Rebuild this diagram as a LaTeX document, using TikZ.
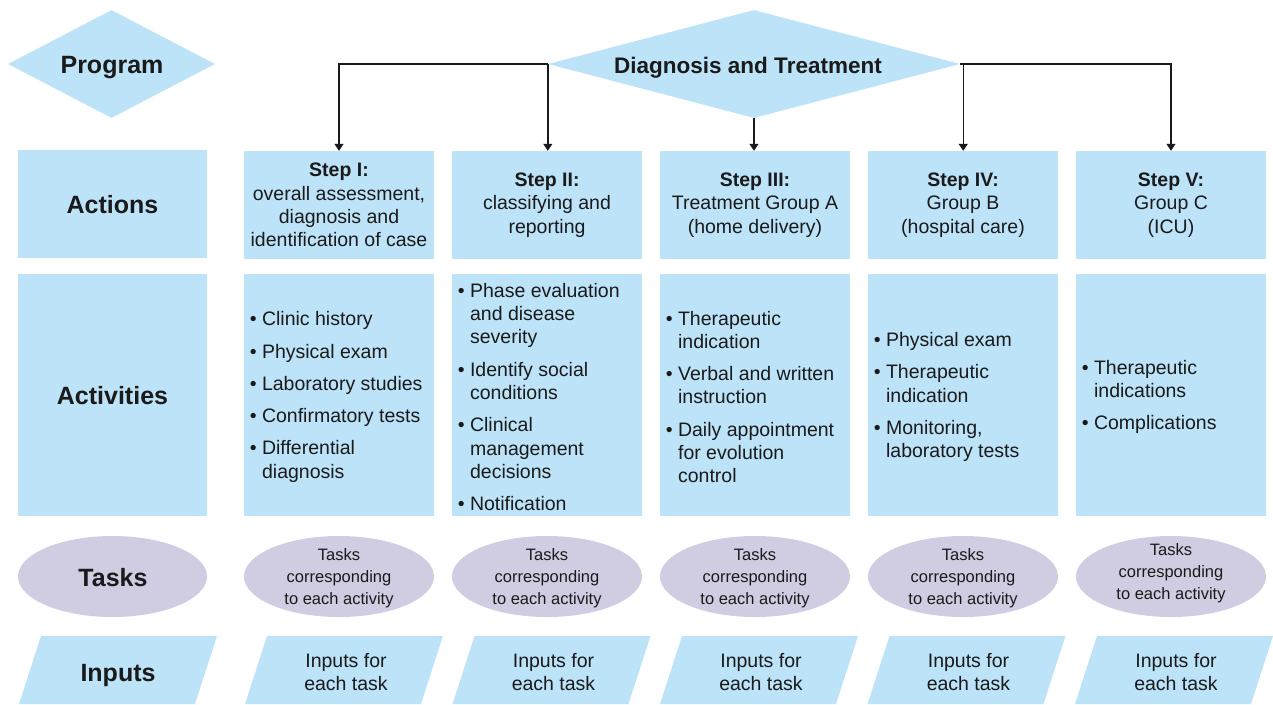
\documentclass[tikz,border=0pt]{standalone}
\usepackage{fontspec}
\setmainfont{Liberation Sans}
\usetikzlibrary{shapes.geometric,arrows.meta}
\definecolor{boxblue}{RGB}{189,227,248}
\definecolor{taskpurple}{RGB}{208,204,225}
\definecolor{ink}{RGB}{26,26,26}
% parallelogram for the inputs row, centred at x = #1
\newcommand\inputshape[1]{\fill[boxblue] ({#1-77},636) -- ({#1+99},636) -- ({#1+77},704) -- ({#1-99},704) -- cycle;}
\begin{document}
\begin{tikzpicture}[x=1pt,y=-1pt,
  every node/.style={text=ink},
  hdr/.style={font=\fontsize{25}{30}\selectfont\bfseries},
  title/.style={font=\fontsize{22.5}{27}\selectfont\bfseries},
  body/.style={font=\fontsize{19.5}{23.3}\selectfont},
  small/.style={font=\fontsize{16.5}{22}\selectfont},
  rowbox/.style={fill=boxblue, inner sep=0pt, minimum width=190pt},
  actbox/.style={rowbox, minimum height=108pt},
  actvbox/.style={rowbox, minimum height=242pt},
  bullets/.style={body, align=left, anchor=west, xshift=2.5pt, yshift=-2pt},
  taskell/.style={ellipse, fill=taskpurple, inner sep=0pt, minimum width=190pt, minimum height=81pt},
  diam/.style={diamond, fill=boxblue, inner sep=0pt, minimum height=108pt},
  link/.style={draw=ink, line width=1.4pt, -{Triangle[width=9pt,length=7pt]}},
]
\useasboundingbox (0,0) rectangle (1273,704);

% program row
\node[diam, minimum width=207pt] (prog) at (111.5,64) {};
\node[hdr] (progt) at (112,68) {Program};
\node[diam, minimum width=412pt] (diag) at (754,64) {};
\node[title] (diagt) at (748,68) {Diagnosis and Treatment};

% actions row
\node[actbox, minimum width=189pt] (lact) at (112.5,204) {};
\node[hdr] (lactt) at (112.5,205) {Actions};
\node[actbox, body, align=center] (a1) at (339,205) {{\bfseries Step I:}\\overall assessment,\\diagnosis and\\identification of case};
\node[actbox, body, align=center] (a2) at (547,205) {{\bfseries Step II:}\\classifying and\\reporting};
\node[actbox, body, align=center] (a3) at (755,205) {{\bfseries Step III:}\\Treatment Group A\\(home delivery)};
\node[actbox, body, align=center] (a4) at (963,205) {{\bfseries Step IV:}\\Group B\\(hospital care)};
\node[actbox, body, align=center] (a5) at (1171,205) {{\bfseries Step V:}\\Group C\\(ICU)};

% connectors from the program
\coordinate (rdrop) at ([xshift=3pt]diag.east);
\draw[link] (diag.west) -| (a1.north);
\draw[link] (diag.west) -- (diag.west |- a2.north);
\draw[link] (diag.south) -- (diag.south |- a3.north);
\draw[link] (diag.east) -- (rdrop) -- (rdrop |- a4.north);
\draw[link] (diag.east) -| (a5.north);

% activities row
\node[actvbox, minimum width=189pt] (lactv) at (112.5,395) {};
\node[hdr] (lactvt) at (112.5,396) {Activities};
\foreach \i/\x in {1/339,2/547,3/755,4/963,5/1171}
  \node[actvbox] (v\i) at (\x,395) {};
\node[bullets] (v1t) at (v1.west)
  {• Clinic history\\[9pt]• Physical exam\\[9pt]• Laboratory studies\\[9pt]• Confirmatory tests\\[9pt]• Differential\\\phantom{• }diagnosis};
\node[bullets] (v2t) at (v2.west)
  {• Phase evaluation\\\phantom{• }and disease\\\phantom{• }severity\\[9pt]• Identify social\\\phantom{• }conditions\\[9pt]• Clinical\\\phantom{• }management\\\phantom{• }decisions\\[9pt]• Notification};
\node[bullets] (v3t) at (v3.west)
  {• Therapeutic\\\phantom{• }indication\\[9pt]• Verbal and written\\\phantom{• }instruction\\[9pt]• Daily appointment\\\phantom{• }for evolution\\\phantom{• }control};
\node[bullets] (v4t) at (v4.west)
  {• Physical exam\\[9pt]• Therapeutic\\\phantom{• }indication\\[9pt]• Monitoring,\\\phantom{• }laboratory tests};
\node[bullets] (v5t) at (v5.west)
  {• Therapeutic\\\phantom{• }indications\\[9pt]• Complications};

% tasks row
\node[taskell, minimum width=189pt] (ltask) at (112.5,576.5) {};
\node[hdr] (ltaskt) at (113,578) {Tasks};
\foreach \i/\x in {1/339,2/547,3/755,4/963}{
  \node[taskell] (k\i) at (\x,576.5) {};
  \node[small, align=center] (k\i t) at (\x,578.5) {Tasks\\corresponding\\to each activity};
}
\node[taskell] (k5) at (1171,576.5) {};
\node[small, align=center] (k5t) at (1171,573.5) {Tasks\\corresponding\\to each activity};

% inputs row
\inputshape{118}
\node[hdr] (linpt) at (118,675) {Inputs};
\foreach \i/\x in {1/344,2/551.5,3/759,4/966.5,5/1174}{
  \inputshape{\x}
  \node[body, align=center] (n\i) at ({\x+2},672) {Inputs for\\each task};
}
\end{tikzpicture}
\end{document}
